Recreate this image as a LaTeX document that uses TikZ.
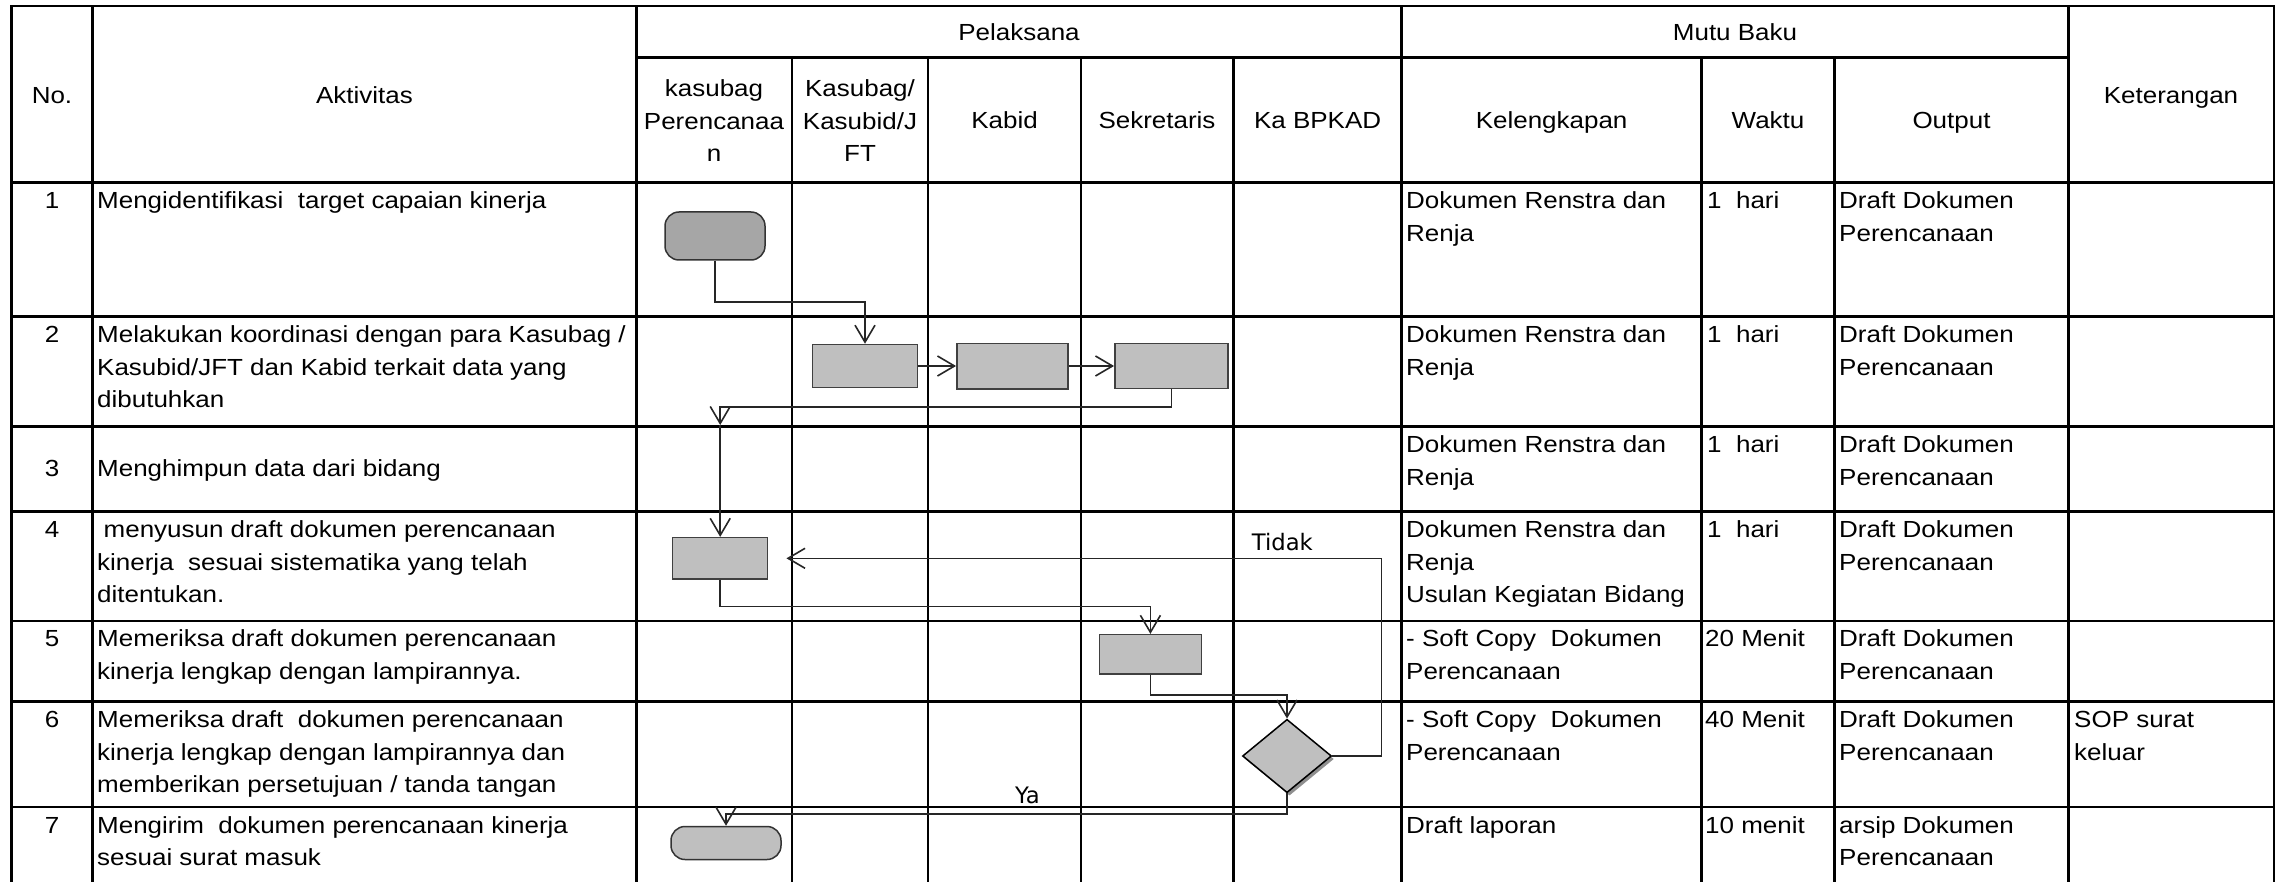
\documentclass[tikz,border=0pt]{standalone}
\usepackage{fontspec}
\setmainfont{Liberation Sans}[FakeStretch=1.115]
\newfontfamily\lblfont{DejaVu Sans}
\usetikzlibrary{arrows.meta,shapes.geometric,shadows,calc}
\definecolor{boxgray}{HTML}{BFBFBF}
\definecolor{startgray}{HTML}{A6A6A6}
\newcommand\fstrut{\rule{0pt}{24pt}}
\begin{document}
\begin{tikzpicture}[x=1pt,y=-1pt,
  grid/.style={line width=2.6pt, line cap=rect, draw=black},
  cell/.style={anchor=north west, inner sep=0pt, align=left, font=\fontsize{23.3}{32.5}\selectfont},
  hcell/.style={anchor=north, inner sep=0pt, align=center, font=\fontsize{23.3}{32.5}\selectfont},
  proc/.style={rectangle, draw=black!75, line width=1.5pt, fill=boxgray, inner sep=0pt},
  term/.style={rectangle, rounded corners=14pt, draw=black!80, line width=1.5pt, inner sep=0pt},
  dec/.style={diamond, draw=black, line width=1.5pt, fill=boxgray, inner sep=0pt,
    minimum width=89pt, minimum height=73.4pt,
    drop shadow={shadow xshift=2.5pt, shadow yshift=-3pt, fill=black!55, opacity=0.8}},
  conn/.style={draw=black!85, line width=1.6pt, -{Straight Barb[length=17pt,width=20pt]}},
  lbl/.style={inner sep=0pt, font=\lblfont\fontsize{22.7}{27}\selectfont}]
\useasboundingbox (0,0) rectangle (2282,882);
\fill[white] (0,0) rectangle (2282,882);

% ---- table grid ----
\draw[grid] (11.6,6) -- (2274,6);
\draw[grid] (636.5,57.3) -- (2068.5,57.3);
\foreach \yy in {182.7,316.7,426.7,511.7,621,701.5,807}
  \draw[grid] (11.6,\yy) -- (2274,\yy);
\foreach \xx in {11.6,92.3,636.5,1401.7,2068.5,2274}
  \draw[grid] (\xx,6) -- (\xx,884);
\foreach \xx in {792,928,1081,1233.5,1701.5,1834.5}
  \draw[grid] (\xx,57.3) -- (\xx,884);

% ---- header ----
\node[hcell] (hno) at (52,79) {\fstrut No.};
\node[hcell] (hakt) at (364.4,79) {\fstrut Aktivitas};
\node[hcell] (hpel) at (1019,16) {\fstrut Pelaksana};
\node[hcell] (hmutu) at (1735,16) {\fstrut Mutu Baku};
\node[hcell] (hket) at (2171,79) {\fstrut Keterangan};
\node[hcell] (hp1) at (714,72.5) {\fstrut kasubag\\Perencanaa\\n};
\node[hcell] (hp2) at (860,72.5) {\fstrut Kasubag/\\Kasubid/J\\FT};
\node[hcell] (hp3) at (1004.5,104) {\fstrut Kabid};
\node[hcell] (hp4) at (1157,104) {\fstrut Sekretaris};
\node[hcell] (hp5) at (1317.6,104) {\fstrut Ka BPKAD};
\node[hcell] (hm1) at (1551.6,104) {\fstrut Kelengkapan};
\node[hcell] (hm2) at (1768,104) {\fstrut Waktu};
\node[hcell] (hm3) at (1951.5,104) {\fstrut Output};

% ---- numbers ----
\node[hcell] (n1) at (52,184.7) {\fstrut 1};
\node[hcell] (n2) at (52,318.7) {\fstrut 2};
\node[hcell] (n3) at (52,452.7) {\fstrut 3};
\node[hcell] (n4) at (52,513.7) {\fstrut 4};
\node[hcell] (n5) at (52,622.7) {\fstrut 5};
\node[hcell] (n6) at (52,703.5) {\fstrut 6};
\node[hcell] (n7) at (52,809) {\fstrut 7};

% ---- aktivitas ----
\node[cell] (a1) at (97,184.7) {\fstrut Mengidentifikasi~ target capaian kinerja};
\node[cell] (a2) at (97,318.7) {\fstrut Melakukan koordinasi dengan para Kasubag /\\Kasubid/JFT dan Kabid terkait data yang\\dibutuhkan};
\node[cell] (a3) at (97,452.7) {\fstrut Menghimpun data dari bidang};
\node[cell] (a4) at (97,513.7) {\fstrut\hspace*{6.5pt}menyusun draft dokumen perencanaan\\kinerja~ sesuai sistematika yang telah\\ditentukan.};
\node[cell] (a5) at (97,622.7) {\fstrut Memeriksa draft dokumen perencanaan\\kinerja lengkap dengan lampirannya.};
\node[cell] (a6) at (97,703.5) {\fstrut Memeriksa draft~ dokumen perencanaan\\kinerja lengkap dengan lampirannya dan\\memberikan persetujuan / tanda tangan};
\node[cell] (a7) at (97,809) {\fstrut Mengirim~ dokumen perencanaan kinerja\\sesuai surat masuk};

% ---- kelengkapan ----
\node[cell] (k1) at (1406,184.7) {\fstrut Dokumen Renstra dan\\Renja};
\node[cell] (k2) at (1406,318.7) {\fstrut Dokumen Renstra dan\\Renja};
\node[cell] (k3) at (1406,428.7) {\fstrut Dokumen Renstra dan\\Renja};
\node[cell] (k4) at (1406,513.7) {\fstrut Dokumen Renstra dan\\Renja\\Usulan Kegiatan Bidang};
\node[cell] (k5) at (1406,622.7) {\fstrut - Soft Copy~ Dokumen\\Perencanaan};
\node[cell] (k6) at (1406,703.5) {\fstrut - Soft Copy~ Dokumen\\Perencanaan};
\node[cell] (k7) at (1406,809) {\fstrut Draft laporan};

% ---- waktu ----
\node[cell] (w1) at (1707,184.7) {\fstrut 1~ hari};
\node[cell] (w2) at (1707,318.7) {\fstrut 1~ hari};
\node[cell] (w3) at (1707,428.7) {\fstrut 1~ hari};
\node[cell] (w4) at (1707,513.7) {\fstrut 1~ hari};
\node[cell] (w5) at (1705,622.7) {\fstrut 20 Menit};
\node[cell] (w6) at (1705,703.5) {\fstrut 40 Menit};
\node[cell] (w7) at (1705,809) {\fstrut 10 menit};

% ---- output ----
\node[cell] (o1) at (1839,184.7) {\fstrut Draft Dokumen\\Perencanaan};
\node[cell] (o2) at (1839,318.7) {\fstrut Draft Dokumen\\Perencanaan};
\node[cell] (o3) at (1839,428.7) {\fstrut Draft Dokumen\\Perencanaan};
\node[cell] (o4) at (1839,513.7) {\fstrut Draft Dokumen\\Perencanaan};
\node[cell] (o5) at (1839,622.7) {\fstrut Draft Dokumen\\Perencanaan};
\node[cell] (o6) at (1839,703.5) {\fstrut Draft Dokumen\\Perencanaan};
\node[cell] (o7) at (1839,809) {\fstrut arsip Dokumen\\Perencanaan};

% ---- keterangan ----
\node[cell] (ket6) at (2074,703.5) {\fstrut SOP surat\\keluar};

% ---- flowchart shapes ----
\node[term, fill=startgray, minimum width=100pt, minimum height=48pt] (start) at (715,236) {};
\node[proc, minimum width=105pt, minimum height=43pt] (r2a) at (865,366) {};
\node[proc, minimum width=111pt, minimum height=45.5pt] (r2b) at (1012.3,366) {};
\node[proc, minimum width=113pt, minimum height=45.3pt] (r2c) at (1171.3,366) {};
\node[proc, minimum width=95pt, minimum height=41.3pt] (r4) at (720.2,558.3) {};
\node[proc, minimum width=102pt, minimum height=39.3pt] (r5) at (1150.4,654.3) {};
\node[dec] (dec) at (1287,756) {};
\node[term, fill=boxgray, minimum width=110pt, minimum height=33pt] (endt) at (726,843) {};
\coordinate (j3) at (r4.north |- 0,425);

% ---- connectors ----
\draw[conn] (start.south) -- ++(0,41) -| (r2a.north);
\draw[conn] (r2a) -- (r2b);
\draw[conn] (r2b) -- (r2c);
\draw[conn] (r2c.south) -- ++(0,17.7) -| (j3);
\draw[conn] (j3) -- (r4.north);
\draw[conn] (r4.south) -- ++(0,26.7) -| (r5.north);
\draw[conn] (r5.south) -- ++(0,20) -| (dec.north);
\draw[conn] (dec.east) -- ++(49.3,0) |- ([xshift=18pt]r4.east);
\draw[conn] (dec.south) -- ++(0,20.6) -| (endt.north);

% ---- labels ----
\node[lbl, anchor=base west] (tidak) at (1251.7,550.7) {Tidak};
\node[lbl, anchor=base west] (ya) at (1014.8,803.3) {Ya};
\end{tikzpicture}
\end{document}
